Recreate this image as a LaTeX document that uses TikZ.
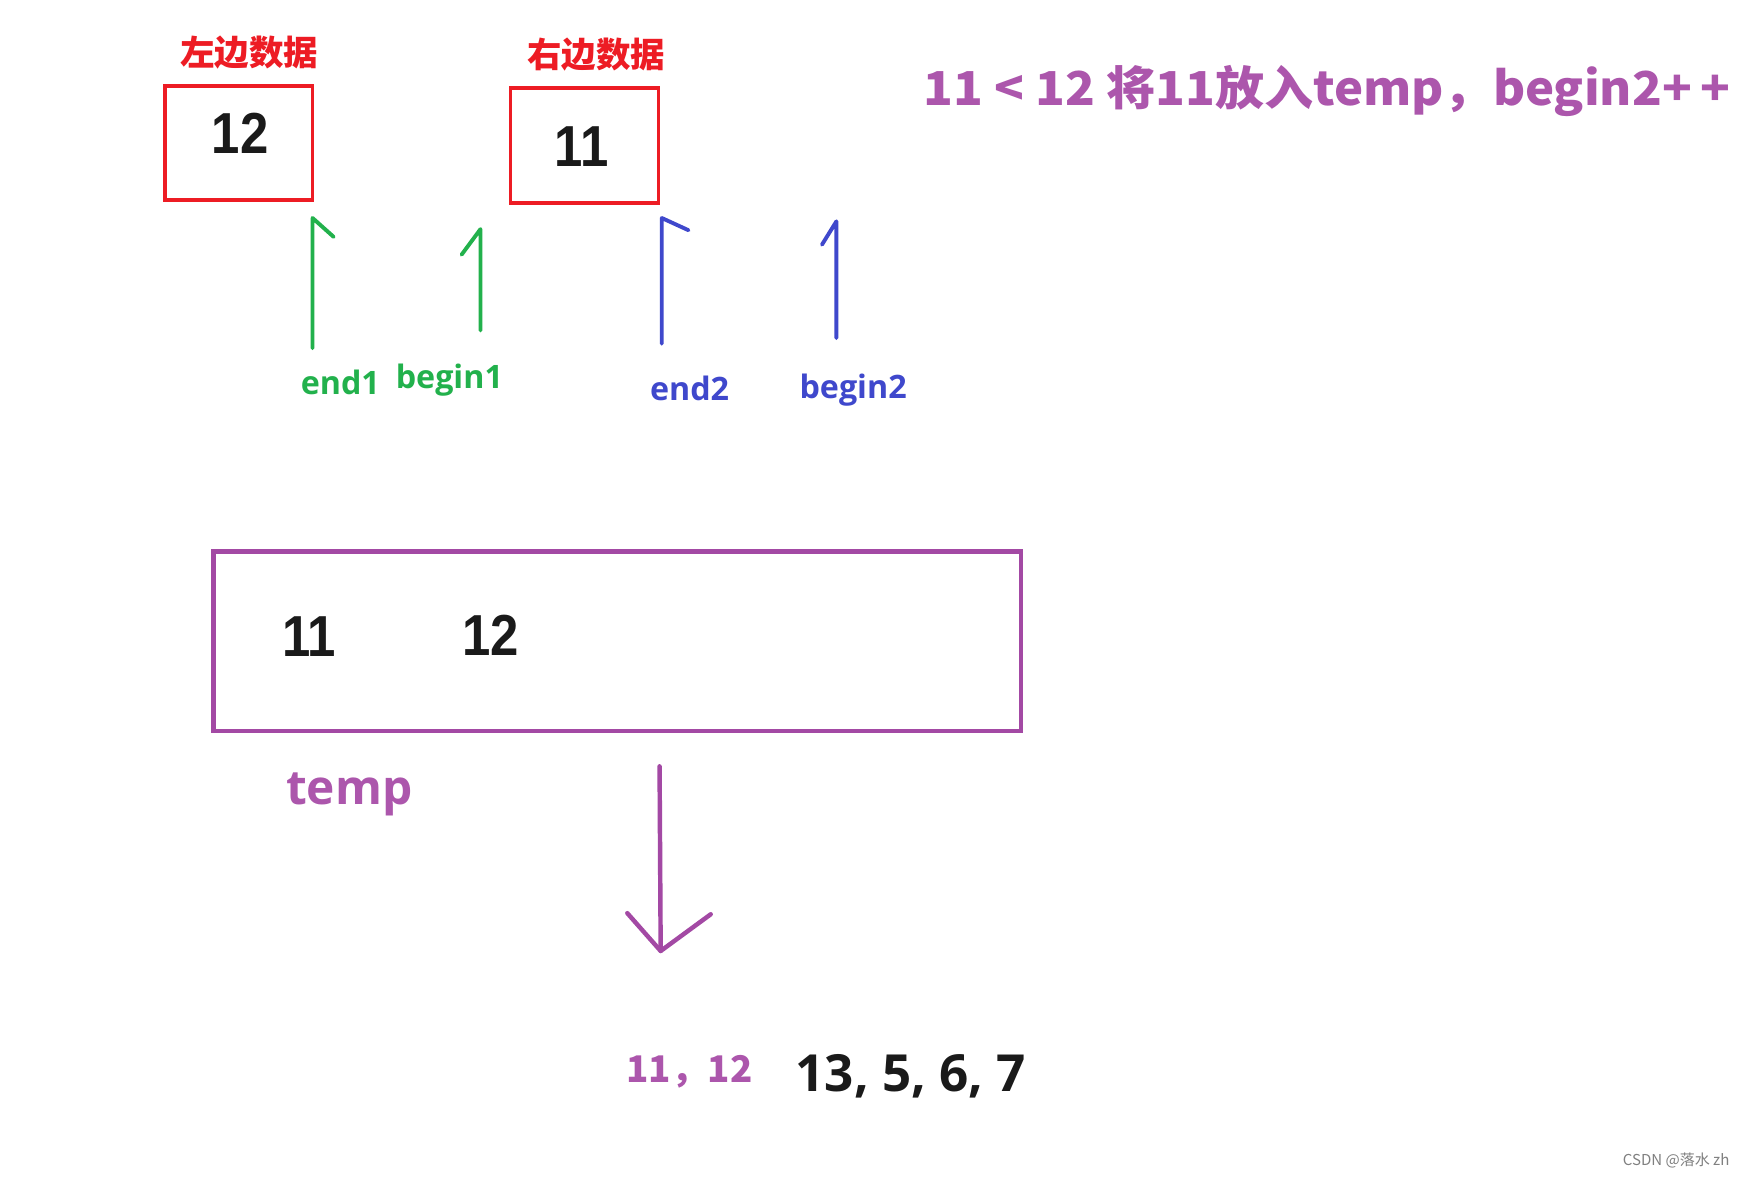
\documentclass[tikz,border=0pt]{standalone}
\usepackage{fontspec}
\setmainfont{Open Sans}
\newfontfamily\cjk{Noto Sans CJK SC}
\newfontfamily\narrowsans{Liberation Sans}
\definecolor{cred}{RGB}{237,28,36}
\definecolor{cgreen}{RGB}{34,177,76}
\definecolor{cblue}{RGB}{63,72,204}
\definecolor{cpurple}{RGB}{163,73,164}
\definecolor{tpurple}{RGB}{172,86,172}
\definecolor{cblack}{RGB}{26,26,26}
\tikzset{
  redbox/.style={draw=cred, line width=3.5pt, minimum width=133pt, minimum height=103pt, inner sep=0pt},
  boxnum/.style={text=cblack, font=\narrowsans\bfseries\fontsize{52}{52}\selectfont, xscale=0.88, inner sep=0pt},
  redlabel/.style={text=cred, font=\cjk\bfseries\fontsize{31}{31}\selectfont, inner sep=0pt},
  greenline/.style={draw=cgreen, line width=3.5pt, line cap=round, line join=round},
  blueline/.style={draw=cblue, line width=3.5pt, line cap=round, line join=round},
  purpleline/.style={draw=cpurple, line width=4pt, line cap=round, line join=round},
  greenlabel/.style={text=cgreen, font=\bfseries\fontsize{29}{29}\selectfont, inner sep=0pt},
  bluelabel/.style={text=cblue, font=\bfseries\fontsize{29}{29}\selectfont, inner sep=0pt},
}
\begin{document}
\begin{tikzpicture}[x=1pt,y=-1pt]
\useasboundingbox[fill=white] (0,0) rectangle (1568,1059);

% top labels and boxes
\node[redlabel] (lt) at (224,47) {左边数据};
\node[redbox] (lbox) at (214.5,128.5) {};
\node[boxnum] (lnum) at (216,120) {12};
\node[redlabel] (rt) at (536,49) {右边数据};
\node[redbox] (rbox) at (525.5,131) {};
\node[boxnum] (rnum) at (523,132) {11};

% title
\node[text=tpurple, font=\cjk\bfseries\fontsize{42}{42}\selectfont, inner sep=0pt, anchor=west, xscale=1.05] (title) at (830,82) {11 < 12 将11放入temp，begin2+\,+};

% pointer labels
\node[greenlabel] (e1) at (306,344) {end1};
\node[greenlabel] (b1) at (404,342) {begin1};
\node[bluelabel] (e2) at (620,349) {end2};
\node[bluelabel] (b2) at (767,351) {begin2};

% pointer coordinates
\coordinate (e1bot) at (281,313);
\coordinate (e1top) at (281,196);
\coordinate (e1tip) at (300,213);
\coordinate (b1bot) at (432,297);
\coordinate (b1top) at (432,206);
\coordinate (b1tip) at (415,229);
\coordinate (e2bot) at (595,309);
\coordinate (e2top) at (595,196);
\coordinate (e2tip) at (619,207);
\coordinate (b2bot) at (752,304);
\coordinate (b2top) at (752,199);
\coordinate (b2tip) at (739,220);

\draw[greenline] (e1bot) -- (e1top) -- (e1tip);
\draw[greenline] (b1bot) -- (b1top) -- (b1tip);
\draw[blueline] (e2bot) -- (e2top) -- (e2tip);
\draw[blueline] (b2bot) -- (b2top) -- (b2tip);

% temp box
\node[draw=cpurple, line width=4pt, minimum width=726pt, minimum height=161pt, inner sep=0pt] (tbox) at (555,576.5) {};
\node[boxnum] (t11) at (278,572) {11};
\node[boxnum] (t12) at (441,571) {12};
\node[text=tpurple, font=\bfseries\fontsize{43}{43}\selectfont, inner sep=0pt] (templbl) at (314,714) {temp};

% down arrow
\coordinate (dtop) at (593,689);
\coordinate (dtip) at (594,855);
\coordinate (dl) at (564,821);
\coordinate (dr) at (639,822);
\draw[purpleline] (dtop) -- (dtip);
\draw[purpleline] (dl) -- (dtip) -- (dr);

% result
\node[text=tpurple, font=\cjk\bfseries\fontsize{33}{33}\selectfont, inner sep=0pt] (res1) at (620,964) {11，12};
\node[text=cblack, font=\bfseries\fontsize{46}{46}\selectfont, inner sep=0pt] (res2) at (819,968) {13, 5, 6, 7};

% watermark
\node[text=gray, font=\cjk\fontsize{13.5}{13.5}\selectfont, inner sep=0pt] (wm) at (1507,1043) {CSDN @落水 zh};
\end{tikzpicture}
\end{document}
